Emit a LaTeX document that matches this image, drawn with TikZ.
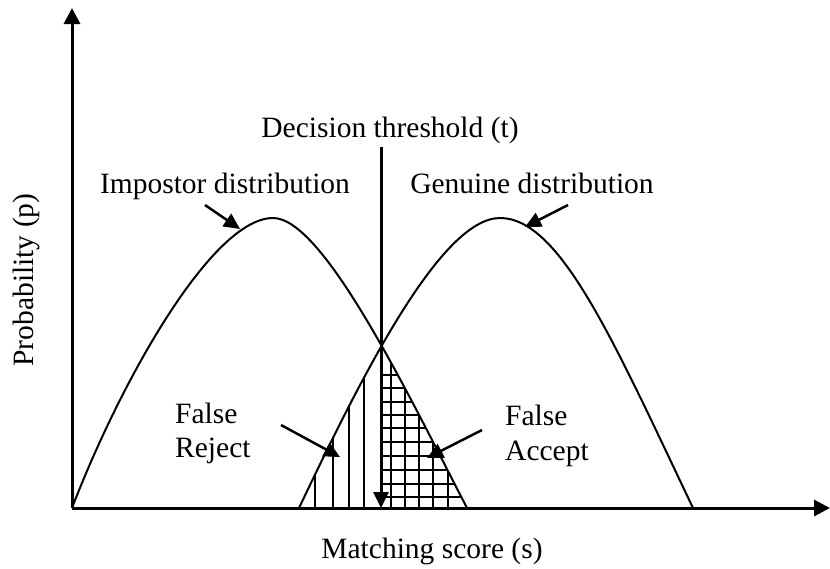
\documentclass[tikz,border=0pt]{standalone}
\usepackage{fontspec}
\setmainfont{Liberation Serif}
\usetikzlibrary{arrows.meta}
\begin{document}
\begin{tikzpicture}[x=1pt,y=-1pt,
  lbl/.style={inner sep=0pt, font=\fontsize{29.5}{34}\selectfont},
  axis/.style={line width=3pt, -{Triangle[length=16pt,width=16pt]}},
  curve/.style={line width=2pt},
  hatch/.style={line width=2pt},
  pointer/.style={line width=2.5pt, -{Triangle[length=16pt,width=15pt]}}]
\useasboundingbox (0,0) rectangle (830,568);

% curve control points
\coordinate (i0) at (72,508);  \coordinate (i1) at (122,378); \coordinate (i2) at (213,218);
\coordinate (i3) at (273,218); \coordinate (i4) at (323,218); \coordinate (i5) at (406,390);
\coordinate (i6) at (467,508);
\coordinate (g0) at (299,508); \coordinate (g1) at (359,382); \coordinate (g2) at (440,218);
\coordinate (g3) at (500,218); \coordinate (g4) at (560,218); \coordinate (g5) at (613,340);
\coordinate (g6) at (693,508);

% hatching: false accept (under impostor, right of threshold)
\begin{scope}
  \clip (i0) .. controls (i1) and (i2) .. (i3) .. controls (i4) and (i5) .. (i6) -- cycle;
  \clip (381,300) rectangle (470,510);
  \foreach \x in {391,405,419,433,448} \draw[hatch] (\x,330) -- (\x,508);
  \foreach \y in {375,388,402,415,428,442,456,470,484,497} \draw[hatch] (381,\y) -- (470,\y);
\end{scope}
% hatching: false reject (under genuine, left of threshold)
\begin{scope}
  \clip (g0) .. controls (g1) and (g2) .. (g3) .. controls (g4) and (g5) .. (g6) -- cycle;
  \clip (290,300) rectangle (381,510);
  \foreach \x in {315,333,349,364} \draw[hatch] (\x,300) -- (\x,508);
\end{scope}

% curves
\draw[curve] (i0) .. controls (i1) and (i2) .. (i3) .. controls (i4) and (i5) .. (i6);
\draw[curve] (g0) .. controls (g1) and (g2) .. (g3) .. controls (g4) and (g5) .. (g6);

% axes
\coordinate (O) at (72,508);
\coordinate (Ytop) at (72,8);
\coordinate (Xend) at (830,508);
\draw[axis] (O) -- (Ytop);
\draw[axis] (O) -- (Xend);

% threshold
\coordinate (thTop) at (381,147);
\coordinate (thBot) at (381,508);
\draw[line width=3pt, -{Triangle[length=16pt,width=15pt]}] (thTop) -- (thBot);

% labels
\node[lbl, anchor=base] (dec) at (390,137) {Decision threshold (t)};
\node[lbl, anchor=base] (imp) at (225,193) {Impostor distribution};
\node[lbl, anchor=base] (gen) at (532,193) {Genuine distribution};
\node[lbl, anchor=base, rotate=90] (py) at (33,280) {Probability (p)};
\node[lbl, anchor=base] (mx) at (432,558) {Matching score (s)};
\node[lbl, anchor=base west] (fr1) at (175,423) {False};
\node[lbl, anchor=base west] (fr2) at (175,457) {Reject};
\node[lbl, anchor=base west] (fa1) at (505,425) {False};
\node[lbl, anchor=base west] (fa2) at (505,460) {Accept};

% pointers
\coordinate (impS) at (205,205);
\coordinate (impT) at (240,229);
\coordinate (genS) at (568,205);
\coordinate (genT) at (525,227);
\coordinate (frS) at (281,425);
\coordinate (frT) at (340,457);
\coordinate (faS) at (482,430);
\coordinate (faT) at (427,458);
\draw[pointer] (impS) -- (impT);
\draw[pointer] (genS) -- (genT);
\draw[pointer] (frS) -- (frT);
\draw[pointer] (faS) -- (faT);
\end{tikzpicture}
\end{document}
